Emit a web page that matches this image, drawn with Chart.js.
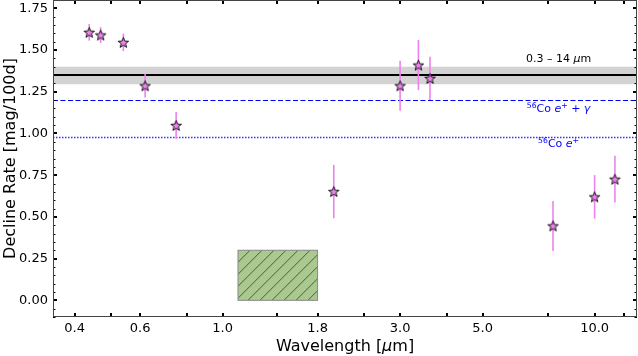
<!DOCTYPE html>
<html>
<head>
<meta charset="utf-8">
<script src="https://cdn.jsdelivr.net/npm/chart.js@4"></script>
<style>
html, body { margin: 0; padding: 0; background: #fff; }
</style>
</head>
<body>
<canvas id="chart" width="638" height="356"></canvas>
<script>
// measured decline rates per band
const wavelength = [0.438, 0.47, 0.541, 0.619, 0.75, 1.99, 3.0, 3.36, 3.61, 7.73, 10.0, 11.34];
const declineRate = [1.606, 1.59, 1.546, 1.286, 1.048, 0.652, 1.286, 1.41, 1.33, 0.446, 0.62, 0.726];
const declineErr = [0.05, 0.047, 0.052, 0.07, 0.08, 0.16, 0.15, 0.15, 0.13, 0.15, 0.13, 0.14];

// reference levels
const bolometricRate = 1.35;
const bolometricBand = [1.295, 1.40];
const coFullTrapping = 1.20;
const coPositronOnly = 0.98;

// hatched region (wavelength range, rate range)
const boxWave = [1.1, 1.8];
const boxRate = [0.0, 0.30];

// axes
const xTickValues = [0.4, 0.5, 0.6, 0.8, 1.0, 1.4, 1.8, 2.4, 3.0, 4.0, 5.0, 7.5, 10, 12];
const xTickLabels = ['0.4', '', '0.6', '', '1.0', '', '1.8', '', '3.0', '', '5.0', '', '10.0', ''];
const yMajorValues = [0, 0.25, 0.5, 0.75, 1.0, 1.25, 1.5, 1.75];
const yTickLabels = ['0.00', '0.25', '0.50', '0.75', '1.00', '1.25', '1.50', '1.75'];

const FONT = 'DejaVu Sans';

// filled five-point star marker
function makeStar(size) {
    const c = document.createElement('canvas');
    c.width = size; c.height = size;
    const g = c.getContext('2d');
    const cx = size / 2, cy = size / 2 + 0.5, R = size / 2 - 1, r = R * 0.42;
    g.beginPath();
    for (let i = 0; i < 10; i++) {
        const rad = i % 2 ? r : R;
        const a = -Math.PI / 2 + i * Math.PI / 5;
        g.lineTo(cx + rad * Math.cos(a), cy + rad * Math.sin(a));
    }
    g.closePath();
    g.fillStyle = 'violet';
    g.fill();
    g.lineWidth = 0.9;
    g.strokeStyle = '#000';
    g.stroke();
    return c;
}
const star = makeStar(13);

function drawParts(ctx, parts, cx, y, size, color) {
    const fontFor = p => (p.italic ? 'italic ' : '') + (p.sup ? size * 0.7 : size) + 'px "' + FONT + '"';
    let w = 0;
    parts.forEach(p => { ctx.font = fontFor(p); w += ctx.measureText(p.t).width; });
    let x = cx - w / 2;
    ctx.fillStyle = color;
    ctx.textAlign = 'left';
    ctx.textBaseline = 'alphabetic';
    parts.forEach(p => {
        ctx.font = fontFor(p);
        ctx.fillText(p.t, x, p.sup ? y - size * 0.4 : y);
        x += ctx.measureText(p.t).width;
    });
}

const decorations = {
    id: 'decorations',
    beforeDatasetsDraw(chart) {
        const ctx = chart.ctx, a = chart.chartArea;
        const xs = chart.scales.x, ys = chart.scales.y;
        ctx.save();
        ctx.beginPath();
        ctx.rect(a.left, a.top, a.right - a.left, a.bottom - a.top);
        ctx.clip();

        // band + bolometric line
        const b1 = ys.getPixelForValue(bolometricBand[1]), b0 = ys.getPixelForValue(bolometricBand[0]);
        ctx.fillStyle = '#d3d3d3';
        ctx.fillRect(a.left, b1, a.right - a.left, b0 - b1);
        ctx.strokeStyle = '#000';
        ctx.lineWidth = 2;
        ctx.beginPath();
        ctx.moveTo(a.left, ys.getPixelForValue(bolometricRate));
        ctx.lineTo(a.right, ys.getPixelForValue(bolometricRate));
        ctx.stroke();

        // cobalt lines
        ctx.strokeStyle = '#0000ff';
        ctx.lineWidth = 1;
        ctx.setLineDash([5, 2.5]);
        let py = Math.round(ys.getPixelForValue(coFullTrapping)) + 0.5;
        ctx.beginPath();
        ctx.moveTo(a.left, py);
        ctx.lineTo(a.right, py);
        ctx.stroke();
        ctx.strokeStyle = '#3333ff';
        ctx.lineWidth = 1.3;
        ctx.setLineDash([1.5, 1.5]);
        py = Math.round(ys.getPixelForValue(coPositronOnly)) + 0.5;
        ctx.beginPath();
        ctx.moveTo(a.left, py);
        ctx.lineTo(a.right, py);
        ctx.stroke();
        ctx.setLineDash([]);

        // hatched box
        const bx0 = xs.getPixelForValue(boxWave[0]), bx1 = xs.getPixelForValue(boxWave[1]);
        const by0 = ys.getPixelForValue(boxRate[0]), by1 = ys.getPixelForValue(boxRate[1]);
        ctx.fillStyle = '#a9c98f';
        ctx.fillRect(bx0, by1, bx1 - bx0, by0 - by1);
        ctx.save();
        ctx.beginPath();
        ctx.rect(bx0, by1, bx1 - bx0, by0 - by1);
        ctx.clip();
        ctx.strokeStyle = '#555';
        ctx.lineWidth = 1;
        const h = by0 - by1;
        for (let x = bx0 - h; x < bx1 + h; x += 12) {
            ctx.beginPath();
            ctx.moveTo(x, by0);
            ctx.lineTo(x + h, by1);
            ctx.stroke();
        }
        ctx.restore();
        ctx.strokeStyle = '#888';
        ctx.lineWidth = 1;
        ctx.strokeRect(bx0, by1, bx1 - bx0, by0 - by1);

        // error bars
        ctx.strokeStyle = 'violet';
        ctx.lineWidth = 1.6;
        wavelength.forEach((w, i) => {
            const px = xs.getPixelForValue(w);
            ctx.beginPath();
            ctx.moveTo(px, ys.getPixelForValue(declineRate[i] - declineErr[i]));
            ctx.lineTo(px, ys.getPixelForValue(declineRate[i] + declineErr[i]));
            ctx.stroke();
        });
        ctx.restore();

        // annotations
        const tx = xs.getPixelForValue(8);
        drawParts(ctx, [{t: '0.3 \u2013 14 '}, {t: '\u03bc', italic: true}, {t: 'm'}],
            tx, ys.getPixelForValue(1.45) + 4, 11, '#000');
        drawParts(ctx, [{t: '56', sup: true}, {t: 'Co '}, {t: 'e', italic: true}, {t: '+', sup: true},
            {t: ' + '}, {t: '\u03b3', italic: true}], tx, ys.getPixelForValue(1.15) + 4, 11, '#0000ff');
        drawParts(ctx, [{t: '56', sup: true}, {t: 'Co '}, {t: 'e', italic: true}, {t: '+', sup: true}],
            tx, ys.getPixelForValue(0.94) + 4, 11, '#0000ff');
    },
    afterDraw(chart) {
        const ctx = chart.ctx, a = chart.chartArea;
        const xs = chart.scales.x, ys = chart.scales.y;
        ctx.save();
        ctx.strokeStyle = '#000';
        // x ticks, inward, bottom and top
        ctx.lineWidth = 2;
        xTickValues.forEach(v => {
            const px = Math.round(xs.getPixelForValue(v));
            ctx.beginPath();
            ctx.moveTo(px, a.bottom); ctx.lineTo(px, a.bottom - 4);
            ctx.moveTo(px, a.top); ctx.lineTo(px, a.top + 4);
            ctx.stroke();
        });
        // y ticks, majors and minors every 0.05
        for (let k = -2; k <= 36; k++) {
            const v = k * 0.05;
            const major = k % 5 === 0;
            const py = Math.round(ys.getPixelForValue(v)) + (major ? 0 : 0.5);
            ctx.lineWidth = major ? 2 : 1;
            const len = major ? 4 : 2.5;
            ctx.beginPath();
            ctx.moveTo(a.left, py); ctx.lineTo(a.left + len, py);
            ctx.moveTo(a.right, py); ctx.lineTo(a.right - len, py);
            ctx.stroke();
        }
        // spines
        ctx.strokeStyle = '#444';
        ctx.lineWidth = 1;
        ctx.strokeRect(a.left + 0.5, a.top + 0.5, a.right - a.left - 1, a.bottom - a.top - 1);

        // axis titles
        drawParts(ctx, [{t: 'Wavelength ['}, {t: '\u03bc', italic: true}, {t: 'm]'}],
            (a.left + a.right) / 2, 351, 16, '#000');
        ctx.translate(15, (a.top + a.bottom) / 2);
        ctx.rotate(-Math.PI / 2);
        drawParts(ctx, [{t: 'Decline Rate [mag/100d]'}], 0, 0, 16, '#000');
        ctx.restore();
    }
};

const ctx = document.getElementById('chart').getContext('2d');
const chart = new Chart(ctx, {
    type: 'scatter',
    data: {
        datasets: [{
            data: wavelength.map((w, i) => ({x: w, y: declineRate[i]})),
            pointStyle: star,
            pointRadius: 7,
            pointHoverRadius: 7
        }]
    },
    options: {
        responsive: false,
        animation: false,
        events: [],
        layout: {autoPadding: false, padding: {left: 0, right: 1, top: 0, bottom: 0}},
        plugins: {legend: {display: false}, tooltip: {enabled: false}},
        scales: {
            x: {
                type: 'logarithmic',
                min: 0.35,
                max: 13.0,
                afterBuildTicks: s => { s.ticks = xTickValues.map(v => ({value: v})); },
                afterFit: s => { s.height = 39; s.paddingLeft = 0; s.paddingRight = 0; },
                grid: {display: false, drawTicks: false},
                border: {display: false},
                ticks: {
                    autoSkip: false,
                    maxRotation: 0,
                    padding: 4,
                    color: '#000',
                    font: {family: FONT, size: 13},
                    callback: (v, i) => xTickLabels[i]
                }
            },
            y: {
                min: -0.1,
                max: 1.8,
                afterBuildTicks: s => { s.ticks = yMajorValues.map(v => ({value: v})); },
                afterFit: s => { s.width = 53; s.paddingTop = 0; s.paddingBottom = 0; },
                grid: {display: false, drawTicks: false},
                border: {display: false},
                ticks: {
                    autoSkip: false,
                    padding: 5,
                    color: '#000',
                    font: {family: FONT, size: 13},
                    callback: (v, i) => yTickLabels[i]
                }
            }
        }
    },
    plugins: [decorations]
});
</script>
</body>
</html>
